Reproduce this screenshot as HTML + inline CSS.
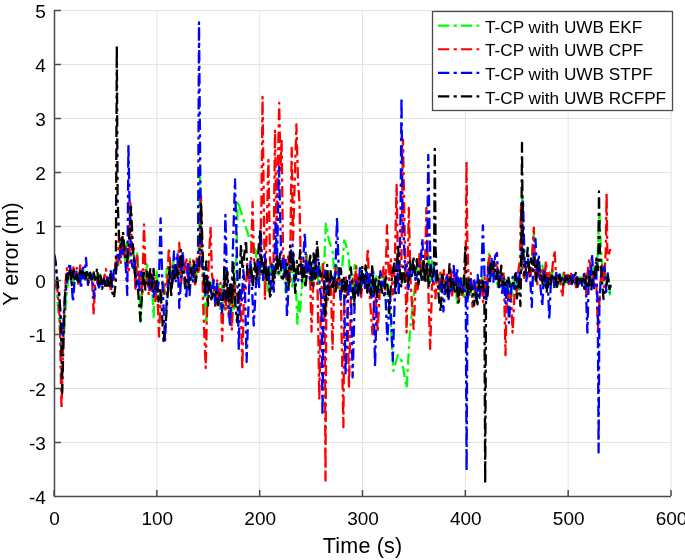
<!DOCTYPE html>
<html><head><meta charset="utf-8"><style>html,body{margin:0;padding:0;background:#fff;overflow:hidden}svg{display:block;will-change:transform}</style></head>
<body><svg width="685" height="560" viewBox="0 0 685 560">
<rect x="0" y="0" width="685" height="560" fill="#fff"/>
<path d="M156.83 10V496M259.67 10V496M362.50 10V496M465.33 10V496M568.17 10V496M671.00 10V496M54 10.5H671M54 64.5H671M54 118.5H671M54 172.5H671M54 226.5H671M54 280.5H671M54 334.5H671M54 388.5H671M54 442.5H671" stroke="#e3e3e3" stroke-width="1" fill="none"/>
<svg x="0" y="0" width="685" height="560" overflow="hidden"><defs><clipPath id="c"><rect x="54" y="10" width="617" height="486"/></clipPath></defs><g clip-path="url(#c)"><path d="M54.0 280.0 56.0 282.0 59.0 320.0 62.0 352.0 64.0 335.0 65.5 312.0 67.0 290.0 68.7 275.5 70.4 274.5 72.1 268.7 73.8 281.3 75.5 277.9 77.3 279.4 79.0 272.9 80.7 280.3 82.4 277.8 84.1 275.4 85.8 269.6 87.5 277.5 89.2 273.3 90.9 278.4 92.6 271.7 94.3 280.3 96.1 275.6 97.8 282.7 99.5 274.3 101.2 283.8 102.9 277.4 104.6 284.6 106.3 276.6 108.0 280.7 109.7 276.1 111.4 284.6 113.2 276.9 114.9 272.2 116.6 258.1 118.3 266.6 120.0 238.8 121.7 255.4 123.4 240.8 125.1 262.3 126.8 242.5 128.5 259.0 130.2 249.9 132.0 255.8 133.7 259.5 135.4 281.6 137.1 253.4 138.8 273.8 140.5 321.7 142.0 285.0 143.7 274.1 145.3 282.0 147.0 264.3 148.6 278.7 150.3 275.1 151.9 283.4 153.6 317.0 155.0 285.0 156.7 271.5 158.3 295.6 160.0 294.8 161.7 297.4 163.4 282.0 165.0 292.1 166.7 268.6 168.4 277.1 170.1 270.9 171.7 281.6 173.4 261.4 175.1 271.0 176.8 267.6 178.4 267.2 180.1 275.0 181.8 276.2 183.4 265.8 185.1 272.1 186.8 265.8 188.5 276.4 190.1 259.2 191.8 279.9 193.5 266.2 195.2 279.0 196.8 272.9 198.5 260.0 200.0 175.0 201.5 230.0 203.0 280.0 206.4 323.6 208.0 285.0 209.8 290.7 211.5 282.8 213.2 293.4 215.0 288.9 216.8 301.3 218.5 284.2 220.2 308.9 222.0 286.0 223.8 309.3 225.5 292.4 227.2 308.3 229.0 295.0 230.8 322.6 232.5 297.6 234.2 308.9 236.0 270.0 237.7 201.0 242.0 215.0 246.0 228.0 250.0 240.0 256.0 251.0 258.0 285.0 259.7 259.5 261.4 275.9 263.1 268.7 264.9 285.5 266.6 267.9 268.3 291.2 270.0 258.0 271.7 276.7 273.4 264.8 275.1 271.1 276.8 265.9 278.6 274.9 280.3 271.7 282.0 266.2 283.7 260.3 285.4 291.6 287.1 266.1 288.8 287.0 290.5 253.5 292.3 286.7 294.0 266.5 295.7 279.8 297.4 323.8 299.0 300.0 300.0 311.5 302.0 285.0 303.7 272.9 305.4 284.2 307.1 255.2 308.8 272.9 310.5 264.3 312.2 289.3 313.8 263.1 315.5 279.9 317.2 272.6 318.9 286.0 320.6 266.9 322.3 280.6 324.0 270.0 325.8 223.7 329.0 240.0 332.8 252.6 335.0 285.0 336.8 265.8 338.5 288.5 340.2 276.8 342.0 270.0 344.2 240.3 346.0 245.0 348.6 256.0 351.0 285.0 352.9 298.8 354.7 264.8 356.4 267.8 358.0 293.1 359.7 278.4 361.4 285.9 363.0 280.1 364.7 286.1 366.4 268.9 368.0 287.3 369.7 278.1 371.4 291.7 373.0 285.9 374.7 286.0 376.3 276.4 378.0 291.5 379.7 292.2 381.3 288.6 383.0 271.7 384.7 286.8 386.3 282.4 388.0 290.0 390.8 323.8 393.4 371.0 397.8 355.0 402.2 362.0 406.6 388.0 410.0 331.0 415.0 285.0 416.7 274.9 418.4 261.1 420.0 272.5 421.7 262.8 423.4 277.1 425.1 267.7 426.8 278.6 428.5 255.5 430.1 282.0 431.8 261.0 433.5 283.7 435.2 278.6 436.9 278.8 438.5 273.1 440.2 291.1 441.9 284.0 443.6 288.5 445.3 280.1 447.0 294.4 448.6 282.7 450.3 291.8 452.0 276.3 453.7 289.4 455.4 279.6 457.0 304.2 458.7 277.6 460.4 296.3 462.1 276.0 463.8 299.8 465.5 282.3 467.1 300.1 468.8 286.8 470.5 294.6 472.2 283.9 473.9 297.3 475.5 280.9 477.2 290.7 478.9 282.2 480.6 292.7 482.3 276.2 484.0 293.5 485.6 287.4 487.3 290.2 489.0 252.6 491.0 280.0 492.6 265.4 494.3 275.7 495.9 270.6 497.5 288.2 499.2 271.6 500.8 280.8 502.5 270.6 504.1 288.7 505.7 276.8 507.4 289.1 509.0 301.0 510.6 282.3 512.3 295.6 513.9 277.4 515.6 288.0 517.2 282.4 518.9 289.7 520.5 270.0 522.3 195.7 524.0 260.0 525.6 270.1 527.3 267.9 528.9 263.9 530.5 272.8 532.2 256.3 533.8 232.0 535.5 280.0 537.2 276.2 538.9 261.4 540.7 275.6 542.4 265.6 544.1 274.3 545.8 268.0 547.6 278.4 549.3 273.5 551.0 284.9 552.7 268.4 554.4 284.6 556.2 274.6 557.9 285.9 559.6 275.9 561.3 282.7 563.1 273.1 564.8 284.6 566.5 278.1 568.2 285.2 569.9 277.1 571.7 284.0 573.4 278.3 575.1 285.0 576.8 279.8 578.6 282.6 580.3 274.2 582.0 279.7 583.7 276.1 585.4 283.4 587.2 273.2 588.9 280.9 590.6 264.7 592.3 284.5 594.1 266.1 595.8 278.7 597.5 260.0 599.3 212.5 601.0 250.0 603.0 274.4 605.0 270.0 606.8 284.0 608.5 278.5 610.3 297.0" stroke="#00ff00" stroke-width="2.3" stroke-dasharray="11.3 4.3 3.2 4.1" fill="none" stroke-linejoin="round"/>
<path d="M54.0 282.0 57.5 290.0 59.8 320.0 61.5 408.8 63.0 350.0 65.0 290.0 66.7 268.5 68.4 276.7 70.1 268.2 71.8 274.5 73.4 267.3 75.1 275.5 76.8 268.0 78.5 285.8 80.2 265.4 81.9 277.8 83.6 277.1 85.3 279.6 86.9 274.6 88.6 278.7 90.3 275.5 92.0 278.6 93.7 314.7 95.0 285.0 96.8 279.7 98.7 284.3 100.5 277.3 102.3 285.7 104.2 277.1 106.0 269.0 107.6 287.5 109.3 277.3 110.9 291.9 112.6 274.7 114.2 281.0 115.9 257.3 117.5 265.1 119.1 232.4 120.8 262.9 122.4 235.7 124.1 257.2 125.7 247.0 127.4 267.9 129.0 270.0 130.4 203.0 132.0 250.0 133.7 245.5 135.4 288.8 137.1 254.7 138.9 280.1 140.6 268.6 142.3 293.8 144.0 224.5 145.5 270.0 147.1 277.0 148.8 295.1 150.4 270.7 152.1 293.2 153.7 272.6 155.4 301.1 157.0 280.0 159.0 336.6 161.0 290.0 162.6 282.0 164.1 294.0 165.7 282.7 167.2 285.4 168.8 248.0 170.6 267.4 172.3 283.9 174.1 266.5 175.8 279.5 177.6 265.9 179.3 243.0 181.0 284.9 182.8 264.7 184.5 270.3 186.3 257.9 188.0 280.1 189.8 261.6 191.5 276.3 193.2 260.3 195.0 286.8 196.7 258.4 198.5 274.0 200.2 260.0 201.0 196.0 203.0 300.0 205.7 368.0 207.5 290.0 210.5 226.5 212.0 275.0 213.7 284.7 215.4 307.9 217.1 280.5 218.8 304.3 220.5 282.8 222.2 341.0 224.0 285.0 225.6 310.4 227.1 286.4 228.7 316.6 230.2 295.2 231.8 330.6 234.0 280.0 235.7 301.0 237.3 293.5 239.0 304.8 240.6 292.1 242.3 370.0 244.0 285.0 245.7 291.2 247.4 263.8 249.2 283.5 250.9 264.1 252.6 202.0 254.0 260.0 255.9 269.9 257.8 263.4 259.6 275.1 261.5 200.0 262.5 96.8 263.5 180.0 265.0 300.0 268.4 160.0 270.0 260.0 271.7 270.1 273.3 282.5 275.0 129.7 276.5 230.0 279.2 102.9 280.5 170.0 281.6 140.0 283.0 250.0 284.7 268.0 286.5 279.3 288.2 256.3 290.0 281.8 291.7 147.8 293.0 240.0 296.4 124.5 298.0 180.0 299.5 203.5 301.0 270.0 302.8 277.4 304.5 275.6 306.2 256.4 308.0 274.6 309.8 260.6 311.5 331.7 313.0 290.0 314.6 276.7 316.1 256.7 317.7 293.5 319.3 400.0 321.0 300.0 322.9 261.7 324.7 330.0 325.5 480.6 326.3 300.0 327.9 299.7 329.4 273.9 330.9 282.5 332.5 349.0 334.0 290.0 335.7 265.8 337.4 287.5 339.1 269.0 340.8 291.2 342.5 380.0 343.4 427.3 344.3 300.0 345.9 277.3 347.4 301.4 349.0 387.8 351.0 290.0 352.7 278.7 354.4 288.5 356.1 266.2 357.8 291.9 359.4 279.8 361.1 297.0 362.8 279.8 364.5 283.4 366.2 273.3 367.9 248.0 369.0 285.0 372.4 334.0 375.0 285.0 377.7 332.6 380.0 285.0 381.8 283.3 383.5 267.1 385.2 291.2 387.0 225.3 389.0 280.0 390.9 259.5 392.8 294.4 394.7 268.3 396.6 185.0 398.0 270.0 399.7 279.7 401.3 269.0 403.0 139.6 405.0 250.0 406.6 332.6 408.8 207.8 410.5 280.0 413.6 329.0 416.0 280.0 417.7 289.3 419.5 251.9 421.2 271.8 422.9 268.9 424.7 279.8 426.4 207.8 428.0 280.0 430.2 349.0 432.0 285.0 433.7 282.6 435.4 298.3 437.1 274.1 438.7 291.5 440.4 272.7 442.1 289.0 443.8 270.1 445.5 293.8 447.2 274.7 448.9 290.8 450.5 266.4 452.2 295.5 453.9 274.4 455.6 285.0 457.3 286.4 459.0 301.4 460.6 278.1 462.3 295.1 464.0 285.3 465.7 260.0 466.5 161.0 467.3 240.0 469.0 294.6 470.8 273.1 472.5 306.9 474.3 281.6 476.0 297.1 477.8 277.5 479.5 289.1 481.3 280.2 483.0 302.0 484.8 277.9 486.5 297.1 488.3 262.7 490.0 256.0 491.7 274.5 493.4 269.9 495.2 270.0 496.9 262.7 498.6 287.1 500.3 272.9 502.1 283.4 503.8 272.0 505.5 355.3 507.0 290.0 508.9 299.8 510.7 289.4 512.6 332.6 515.0 285.0 516.7 292.0 518.3 271.1 520.0 260.0 521.0 205.0 522.5 270.0 524.1 277.8 525.7 266.3 527.3 278.0 529.0 266.2 530.6 275.1 532.2 254.2 533.8 227.7 535.5 280.0 537.2 284.4 539.0 263.6 540.7 280.4 542.4 267.3 544.2 282.4 545.9 261.0 547.7 285.1 549.4 272.7 551.1 282.5 552.9 262.8 554.6 250.5 556.5 285.0 558.0 279.6 559.5 273.7 561.0 287.8 562.5 296.6 564.2 272.6 565.9 284.0 567.6 273.8 569.3 286.9 571.0 273.8 572.7 280.9 574.4 276.9 576.1 287.4 577.9 279.3 579.6 281.0 581.3 279.4 583.0 283.0 584.7 273.7 586.4 295.6 588.1 265.9 589.8 258.5 592.0 285.0 593.5 274.8 595.0 273.6 596.5 287.5 598.0 329.5 600.0 290.0 601.9 265.5 603.9 287.0 605.8 250.0 606.6 193.4 607.4 260.0 610.3 249.0" stroke="#ff0000" stroke-width="2.3" stroke-dasharray="11.3 4.3 3.2 4.1" fill="none" stroke-linejoin="round"/>
<path d="M54.0 255.0 55.5 262.0 57.5 285.0 59.5 300.0 61.0 320.0 62.5 349.0 64.0 310.0 66.0 290.0 68.0 269.7 70.0 263.0 73.0 302.0 74.6 279.8 76.2 270.5 77.9 282.3 79.5 273.4 81.1 288.8 82.8 265.2 84.4 278.6 86.0 258.0 88.0 285.0 89.5 272.8 91.0 279.6 92.5 275.0 94.0 298.0 95.7 286.1 97.4 282.8 99.1 287.5 100.7 280.2 102.4 287.0 104.1 279.8 105.8 287.0 107.5 276.7 109.2 285.9 110.8 271.2 112.5 286.8 114.2 267.0 115.9 274.3 117.6 253.5 119.3 259.3 120.9 243.8 122.6 253.7 124.3 249.1 126.0 270.0 127.3 295.0 128.4 145.0 129.5 200.0 131.0 260.0 132.7 267.5 134.5 256.2 136.2 286.5 138.0 274.0 139.7 290.1 141.4 272.0 143.2 274.8 144.9 272.2 146.7 271.1 148.4 277.4 150.2 289.4 151.9 275.0 153.6 296.9 155.4 284.4 157.1 293.5 158.9 280.4 160.6 218.5 162.0 270.0 165.0 342.0 167.0 290.0 168.8 282.6 170.5 272.4 172.3 281.6 174.0 251.3 175.8 281.3 177.5 253.1 179.3 308.0 181.1 277.1 182.8 251.6 184.6 283.3 186.3 299.0 188.0 261.8 189.6 295.1 191.3 268.0 193.0 282.3 194.7 263.4 196.3 270.4 198.0 260.0 199.0 22.5 199.8 120.0 200.5 200.0 202.0 270.0 203.7 266.9 205.3 295.4 207.0 276.0 208.7 291.1 210.4 282.7 212.0 298.5 213.7 279.8 215.4 304.6 217.0 283.7 218.7 301.2 220.4 292.3 222.1 312.5 223.7 295.9 225.4 215.0 227.0 280.0 230.0 327.0 232.0 280.0 235.0 179.5 237.0 260.0 238.8 350.0 240.0 290.0 241.7 302.0 243.3 270.2 244.9 286.4 246.6 362.0 249.0 290.0 250.6 260.1 252.1 289.1 253.7 325.5 256.0 285.0 257.6 260.9 259.1 287.2 260.7 230.0 263.0 280.0 264.8 254.3 266.6 277.1 268.4 265.7 270.2 293.8 272.0 264.5 273.8 291.6 275.6 223.0 277.0 260.0 279.0 167.0 281.0 250.0 282.5 256.1 284.0 279.2 285.5 257.0 287.0 317.0 288.8 283.0 290.7 251.8 292.5 244.7 294.3 281.6 296.0 278.3 297.8 282.0 299.5 274.5 301.3 272.8 303.0 263.3 304.8 233.0 306.5 274.1 308.1 263.4 309.8 278.8 311.5 260.1 313.1 285.8 314.8 255.1 316.5 276.4 318.2 259.6 319.8 286.6 321.5 300.0 322.5 415.7 323.5 300.0 325.2 269.2 326.9 294.0 328.6 276.5 330.2 282.3 331.9 276.6 333.6 286.8 335.3 274.5 337.0 217.5 339.0 280.0 340.6 300.0 342.3 279.6 344.0 282.8 345.6 375.0 348.0 300.0 349.5 276.7 351.1 295.8 352.6 377.4 355.0 290.0 356.7 278.5 358.3 295.6 360.0 265.5 361.7 286.6 363.3 281.1 365.0 287.9 366.7 269.4 368.3 289.6 370.0 274.2 371.7 297.6 373.3 270.8 375.0 367.0 377.0 290.0 378.7 292.0 380.4 271.1 382.1 287.3 383.9 281.6 385.6 297.2 387.3 340.0 390.0 290.0 392.8 361.0 395.0 290.0 396.8 260.5 398.7 294.7 400.5 220.0 401.5 97.5 402.4 200.0 405.0 270.0 406.7 264.5 408.5 291.0 410.2 266.0 412.0 275.2 413.7 265.1 415.4 279.8 417.2 274.8 418.9 272.1 420.7 260.9 422.4 238.5 424.0 280.0 425.4 276.6 426.9 271.2 428.3 155.0 429.5 230.0 431.0 275.0 432.8 281.6 434.5 262.3 436.3 282.2 438.1 278.4 439.9 288.7 441.6 275.9 443.4 311.5 445.1 289.9 446.8 273.9 448.6 299.2 450.3 286.6 452.0 292.5 453.7 265.9 455.5 285.8 457.2 268.6 458.9 290.9 460.6 278.8 462.4 293.9 464.1 281.7 465.8 300.0 466.6 471.0 467.4 300.0 469.1 291.1 470.8 278.9 472.6 291.7 474.3 280.5 476.0 300.3 477.7 274.8 479.5 297.8 481.2 283.3 482.9 225.4 484.5 275.0 486.3 302.1 488.0 266.6 489.8 284.0 491.6 258.8 493.4 281.9 495.1 255.9 496.9 253.0 498.6 287.2 500.4 275.8 502.1 292.9 503.8 278.3 505.5 303.2 507.3 279.3 509.0 323.0 510.8 293.8 512.6 277.0 514.4 289.1 516.1 272.9 517.9 287.6 519.7 273.3 521.5 270.0 523.0 200.0 524.5 260.0 526.3 281.2 528.1 259.3 530.0 275.5 531.8 307.0 533.6 255.3 535.5 239.0 537.2 278.6 538.9 256.6 540.6 287.9 542.3 306.0 544.0 268.5 545.8 286.9 547.5 275.1 549.3 319.4 551.0 279.2 552.8 273.8 554.5 289.1 556.2 272.8 558.0 283.7 559.7 274.3 561.4 283.0 563.2 279.4 564.9 281.3 566.6 276.0 568.3 282.5 570.1 275.4 571.8 284.0 573.5 272.2 575.3 283.3 577.0 277.1 578.7 284.5 580.5 278.6 582.2 285.7 583.9 274.1 585.7 283.2 587.4 332.6 588.9 270.9 590.5 284.2 592.0 254.0 594.0 290.0 595.9 262.3 597.8 310.0 598.6 452.6 599.4 300.0 601.2 274.1 603.0 270.0 604.6 266.1 606.2 291.9 607.8 273.4 609.4 293.1" stroke="#0000ff" stroke-width="2.3" stroke-dasharray="11.3 4.3 3.2 4.1" fill="none" stroke-linejoin="round"/>
<path d="M54.0 254.0 55.0 258.0 56.0 266.0 57.5 282.0 59.5 295.0 61.0 330.0 62.2 393.0 63.5 340.0 65.0 295.0 66.7 274.4 68.4 279.1 70.1 268.5 71.8 285.1 73.4 269.7 75.1 281.7 76.8 274.5 78.5 283.8 80.2 270.7 81.9 273.6 83.6 269.3 85.3 279.3 87.0 272.1 88.7 283.4 90.3 272.7 92.0 280.7 93.7 272.5 95.4 279.7 97.1 268.4 98.8 286.2 100.5 275.3 102.2 288.8 103.9 278.7 105.6 288.8 107.2 279.3 108.9 285.5 110.6 272.8 112.3 292.4 114.0 298.0 115.8 282.0 116.8 46.0 117.6 200.0 119.0 236.0 121.0 250.0 123.0 232.0 125.0 255.0 127.0 262.0 129.0 240.0 131.0 207.0 133.0 250.0 135.0 275.0 138.0 290.0 140.5 321.0 142.0 295.0 143.7 270.6 145.3 289.7 147.0 271.7 148.6 284.3 150.3 269.1 151.9 288.3 153.6 268.9 155.2 288.4 156.9 280.8 158.5 301.7 160.2 288.8 161.8 309.4 163.5 341.0 166.0 319.0 168.0 290.0 169.6 267.3 171.2 296.8 172.9 269.3 174.5 278.5 176.1 264.3 177.8 278.8 179.4 267.2 181.0 250.0 182.6 273.0 184.3 273.3 185.9 287.2 187.5 278.1 189.2 288.6 190.8 268.4 192.5 277.4 194.1 261.8 195.7 282.1 197.4 268.9 199.0 270.0 201.0 202.0 203.0 260.0 204.7 295.4 206.3 261.3 208.0 305.7 209.7 282.4 211.3 299.4 213.0 293.7 214.7 295.2 216.3 291.0 218.0 305.0 219.7 293.6 221.3 299.9 223.0 300.0 224.5 266.0 226.0 300.0 227.5 272.0 229.0 302.4 230.5 281.4 232.0 305.0 233.5 262.0 235.0 300.0 237.0 322.0 239.0 290.0 241.0 245.0 242.5 270.0 246.0 240.0 247.5 275.0 249.3 276.2 251.1 266.2 252.9 287.8 254.6 262.3 256.4 280.7 258.2 253.0 260.0 231.5 262.0 275.0 263.6 273.5 265.2 259.2 266.8 282.1 268.4 269.6 270.0 296.6 271.7 292.6 273.4 271.2 275.0 278.6 276.7 255.1 278.4 274.0 280.1 251.9 281.8 281.2 283.4 277.2 285.1 273.5 286.8 263.8 288.5 289.2 290.1 245.7 291.8 272.0 293.5 253.7 295.2 292.9 296.9 260.8 298.5 273.8 300.2 250.1 301.9 282.3 303.6 260.9 305.2 287.8 306.9 274.2 308.6 267.0 310.3 255.6 312.0 285.7 313.6 253.4 315.3 278.7 317.0 242.0 318.7 262.3 320.4 276.5 322.1 273.3 323.8 272.4 325.5 316.8 327.2 264.9 328.9 295.2 330.6 271.1 332.2 289.2 333.9 277.9 335.6 291.5 337.3 277.4 339.0 278.4 340.7 268.3 342.4 291.2 344.1 276.6 345.8 297.1 347.4 276.6 349.1 277.1 350.8 267.5 352.5 285.0 354.0 306.0 355.5 285.0 357.2 293.3 358.9 277.8 360.6 293.3 362.2 265.8 363.9 283.1 365.6 265.4 367.3 292.7 369.0 284.9 370.7 294.9 372.3 264.4 374.0 294.5 375.7 277.0 377.4 299.7 379.1 275.5 380.8 285.3 382.4 292.6 384.1 297.2 385.8 275.0 387.5 285.0 389.0 313.0 390.5 290.0 392.4 273.1 394.2 263.7 396.0 293.3 397.9 243.8 399.6 269.0 401.3 287.5 403.1 266.5 404.8 282.2 406.5 274.9 408.2 283.3 409.9 261.2 411.7 276.2 413.4 256.5 415.1 275.2 416.8 259.1 418.5 284.6 420.2 268.8 422.0 281.9 423.7 258.5 425.4 282.9 427.1 263.6 428.8 287.5 430.6 264.7 432.3 277.8 434.0 270.0 434.8 149.0 435.6 250.0 437.3 277.8 439.0 300.3 440.7 311.5 442.5 273.1 444.2 288.0 446.0 282.7 447.7 296.6 449.5 264.2 451.2 288.3 453.0 279.5 454.8 291.6 456.5 282.5 458.3 302.5 460.0 288.1 461.8 294.2 463.5 288.4 465.3 247.3 467.0 297.0 468.8 278.4 470.5 291.4 472.2 287.5 474.0 305.7 475.7 292.2 477.5 304.3 479.2 280.4 480.9 287.7 482.7 281.2 484.4 300.0 485.2 483.4 486.0 300.0 487.6 295.3 489.1 277.8 490.7 263.0 492.4 272.0 494.2 261.5 495.9 279.1 497.7 268.7 499.4 287.2 501.2 265.6 502.9 284.6 504.7 282.4 506.4 286.6 508.2 276.1 509.9 286.7 511.7 282.3 513.4 283.6 515.2 274.0 516.9 298.4 518.7 278.9 520.4 306.0 521.2 260.0 522.0 143.0 522.8 240.0 524.4 275.4 526.1 268.6 527.7 247.8 529.4 273.7 531.1 258.3 532.9 271.1 534.6 257.6 536.3 281.2 538.0 259.7 539.7 275.4 541.5 275.8 543.2 287.7 544.9 274.7 546.6 292.6 548.3 277.1 550.1 284.5 551.8 275.9 553.5 280.8 555.2 274.5 556.9 288.1 558.7 275.5 560.4 281.3 562.1 278.1 563.8 286.3 565.5 276.4 567.2 283.1 569.0 274.5 570.7 279.7 572.4 282.6 574.1 279.2 575.8 272.8 577.6 286.8 579.3 276.2 581.0 282.4 582.7 278.7 584.4 288.9 586.2 276.4 587.9 288.4 589.6 276.8 591.3 290.4 593.0 272.2 594.8 276.6 596.5 258.3 598.2 270.0 599.0 191.5 599.8 250.0 602.0 280.0 603.5 299.0 605.0 290.0 606.5 285.2 608.0 275.3 609.5 289.2 611.0 285.0" stroke="#000000" stroke-width="2.3" stroke-dasharray="11.3 4.3 3.2 4.1" fill="none" stroke-linejoin="round"/></g></svg>
<path d="M54.5 10V496.5H671M54 10.5h7M54 64.5h7M54 118.5h7M54 172.5h7M54 226.5h7M54 280.5h7M54 334.5h7M54 388.5h7M54 442.5h7M54 496.5h7M54.00 496v-6M156.83 496v-6M259.67 496v-6M362.50 496v-6M465.33 496v-6M568.17 496v-6M671.00 496v-6" stroke="#4a4a4a" stroke-width="1.5" fill="none"/>
<g font-family="Liberation Sans" font-size="19" fill="#000"><text x="45.8" y="18" text-anchor="end">5</text><text x="45.8" y="72" text-anchor="end">4</text><text x="45.8" y="126" text-anchor="end">3</text><text x="45.8" y="180" text-anchor="end">2</text><text x="45.8" y="234" text-anchor="end">1</text><text x="45.8" y="288" text-anchor="end">0</text><text x="45.8" y="342" text-anchor="end">-1</text><text x="45.8" y="396" text-anchor="end">-2</text><text x="45.8" y="450" text-anchor="end">-3</text><text x="45.8" y="504" text-anchor="end">-4</text><text x="54.50" y="524.5" text-anchor="middle">0</text><text x="157.33" y="524.5" text-anchor="middle">100</text><text x="260.17" y="524.5" text-anchor="middle">200</text><text x="363.00" y="524.5" text-anchor="middle">300</text><text x="465.83" y="524.5" text-anchor="middle">400</text><text x="568.67" y="524.5" text-anchor="middle">500</text><text x="671.50" y="524.5" text-anchor="middle">600</text></g>
<text x="362.6" y="552.75" text-anchor="middle" font-family="Liberation Sans" font-size="21.5" letter-spacing="0.2" fill="#000">Time (s)</text>
<text transform="translate(18.1 254) rotate(-90)" text-anchor="middle" font-family="Liberation Sans" font-size="21.5" fill="#000">Y error (m)</text>
<rect x="432.5" y="11.5" width="240.0" height="99.0" fill="#fff" stroke="#4a4a4a" stroke-width="1.3"/><path d="M438 25.70H479.3" stroke="#00ff00" stroke-width="2.2" stroke-dasharray="11.3 4.3 3.2 4.1" fill="none"/><text x="485" y="32.80" font-family="Liberation Sans" font-size="17.2" fill="#000">T-CP with UWB EKF</text><path d="M438 49.27H479.3" stroke="#ff0000" stroke-width="2.2" stroke-dasharray="11.3 4.3 3.2 4.1" fill="none"/><text x="485" y="56.37" font-family="Liberation Sans" font-size="17.2" fill="#000">T-CP with UWB CPF</text><path d="M438 72.84H479.3" stroke="#0000ff" stroke-width="2.2" stroke-dasharray="11.3 4.3 3.2 4.1" fill="none"/><text x="485" y="79.94" font-family="Liberation Sans" font-size="17.2" fill="#000">T-CP with UWB STPF</text><path d="M438 96.41H479.3" stroke="#000000" stroke-width="2.2" stroke-dasharray="11.3 4.3 3.2 4.1" fill="none"/><text x="485" y="103.51" font-family="Liberation Sans" font-size="17.2" fill="#000">T-CP with UWB RCFPF</text>
</svg></body></html>
